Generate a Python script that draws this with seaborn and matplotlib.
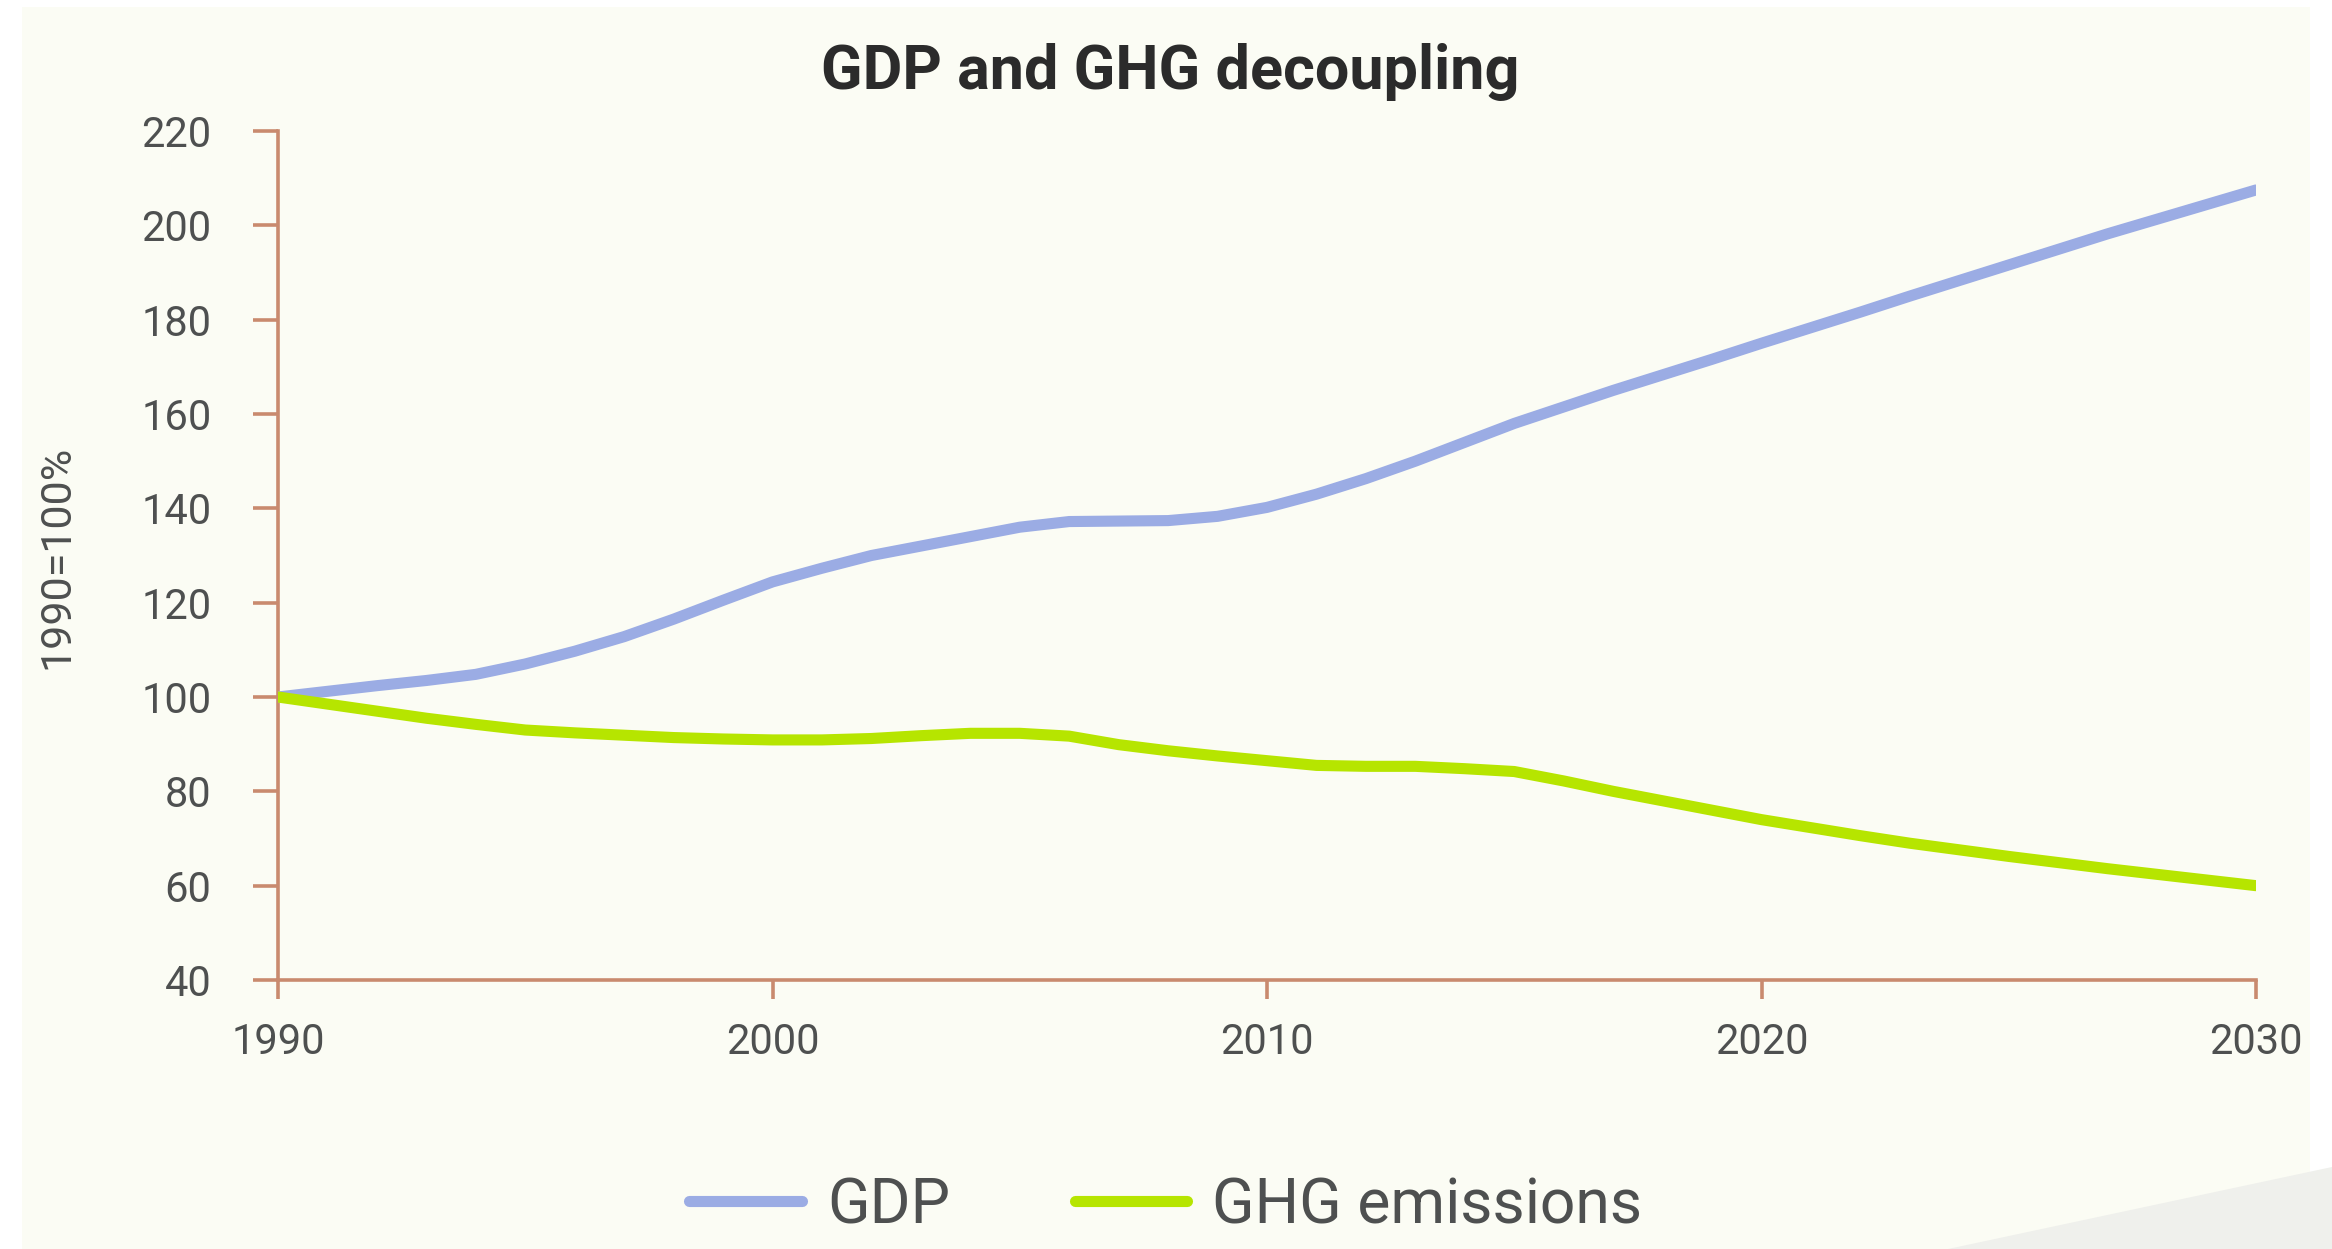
import numpy as np
import pandas as pd
import matplotlib
matplotlib.use("Agg")
import matplotlib.pyplot as plt
from matplotlib.patches import Polygon, Rectangle
import seaborn as sns

# ---- data ----
years = list(range(1990, 2031))
gdp = [100, 101.2, 102.4, 103.5, 104.8, 107, 109.7, 112.8, 116.5, 120.5,
       124.4, 127.3, 130, 132, 134, 136, 137.2, 137.3, 137.4, 138.3,
       140.2, 143, 146.3, 150, 154, 158, 161.5, 165, 168.3, 171.6,
       175, 178.3, 181.6, 185, 188.3, 191.6, 194.9, 198.2, 201.3, 204.4, 207.5]
ghg = [100, 98.5, 97, 95.5, 94.2, 93, 92.4, 91.9, 91.4, 91.1,
       90.9, 90.9, 91.2, 91.8, 92.3, 92.3, 91.7, 89.9, 88.6, 87.5,
       86.5, 85.5, 85.3, 85.3, 84.8, 84.2, 82.2, 80, 78, 76,
       74, 72.3, 70.6, 69, 67.6, 66.2, 64.9, 63.6, 62.4, 61.2, 60]
series_names = ["GDP", "GHG emissions"]
x_ticks = [1990, 2000, 2010, 2020, 2030]
y_ticks = [40, 60, 80, 100, 120, 140, 160, 180, 200, 220]
title = "GDP and GHG decoupling"
y_label = "1990=100%"

df = pd.DataFrame({
    "year": years * 2,
    "value": gdp + ghg,
    "series": [series_names[0]] * len(years) + [series_names[1]] * len(years),
})

# ---- style ----
sns.set_theme(style="white")
plt.rcParams["font.family"] = ["Roboto", "DejaVu Sans"]

BG = "#FBFCF4"
SPINE = "#C98A6E"
TXT = "#4E5050"
palette = {"GDP": "#9BACE4", "GHG emissions": "#B6E500"}

fig = plt.figure(figsize=(23.32, 12.49), dpi=100, facecolor="white")
# cream panel and grey corner shape
fig.patches.append(Rectangle((22 / 2332, 0), (2310 - 22) / 2332, 1 - 7 / 1249,
                             transform=fig.transFigure, facecolor=BG,
                             edgecolor="none", zorder=-10))
fig.patches.append(Polygon([(1948 / 2332, 0), (1.0, (1249 - 1167) / 1249), (1.0, 0)],
                           closed=True, transform=fig.transFigure,
                           facecolor="#EFF0EC", edgecolor="none", zorder=-9))

ax = fig.add_axes([278 / 2332, 1 - 980 / 1249, (2256 - 278) / 2332, (980 - 131) / 1249])
ax.set_facecolor("none")

sns.lineplot(data=df, x="year", y="value", hue="series", palette=palette,
             linewidth=8, ax=ax, legend=False, solid_capstyle="round",
             solid_joinstyle="round", zorder=3)

ax.set_xlim(1990, 2030)
ax.set_ylim(40, 220)
ax.set_xticks(x_ticks)
ax.set_yticks(y_ticks)
ax.set_xticklabels([str(t) for t in x_ticks])
ax.set_yticklabels([str(t) for t in y_ticks])

for s in ["top", "right"]:
    ax.spines[s].set_visible(False)
for s in ["left", "bottom"]:
    ax.spines[s].set_color(SPINE)
    ax.spines[s].set_linewidth(2.6)
    ax.spines[s].set_zorder(2)

ax.tick_params(axis="y", direction="out", length=18, width=2.6, color=SPINE,
               labelsize=30, labelcolor=TXT, pad=30, left=True)
ax.tick_params(axis="x", direction="out", length=14, width=2.6, color=SPINE,
               labelsize=30, labelcolor=TXT, pad=16, bottom=True)

ax.set_xlabel("")
ax.set_ylabel("")
fig.text(57 / 2332, 1 - 557 / 1249, y_label, rotation=90, ha="center", va="center",
         fontsize=31, color=TXT)

fig.text(1170 / 2332, 1 - 72 / 1249, title, ha="center", va="center",
         fontsize=44, fontweight="bold", color="#2B2B2B")

handles = [plt.Line2D([], [], color=palette[n], linewidth=8, solid_capstyle="round")
           for n in series_names]
leg = fig.legend(handles, series_names, loc="center", bbox_to_anchor=(0.5, 1 - 1206 / 1249),
                 ncol=2, frameon=False, fontsize=45, handlelength=1.8,
                 columnspacing=2.0, handletextpad=0.4)
for t in leg.get_texts():
    t.set_color(TXT)

fig.savefig("out.png", dpi=100, facecolor=fig.get_facecolor())
